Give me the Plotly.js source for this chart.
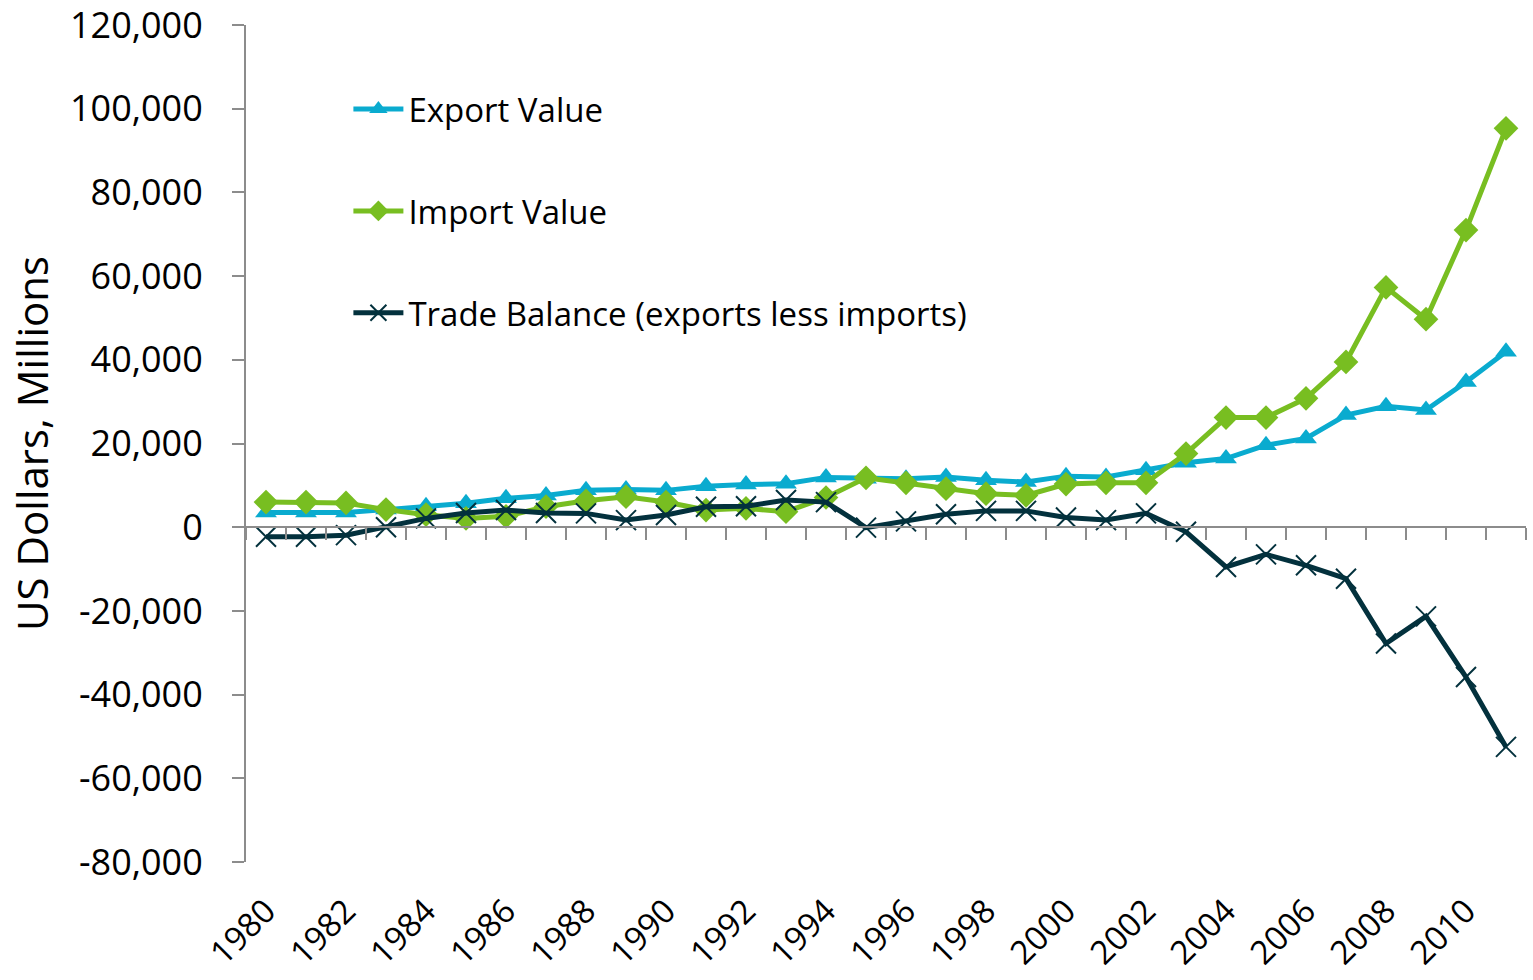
<!DOCTYPE html>
<html>
<head>
<meta charset="utf-8">
<script src="https://cdn.plot.ly/plotly-3.0.1.min.js"></script>
<style>html,body{margin:0;padding:0;background:#fff;}#chart{width:1533px;height:980px;}</style>
</head>
<body>
<div id="chart"></div>
<script>
var years = [1980,1981,1982,1983,1984,1985,1986,1987,1988,1989,1990,1991,1992,1993,1994,1995,1996,1997,1998,1999,2000,2001,2002,2003,2004,2005,2006,2007,2008,2009,2010,2011];
var exportValue = [3500,3500,3500,4200,5000,5700,6900,7600,8800,9000,8800,9800,10200,10400,11900,11600,11600,12000,11200,10800,12200,12000,13600,15400,16400,19600,21200,26800,28900,28000,34700,41900];
var importValue = [6000,6000,5800,4200,3000,2100,2600,4900,6300,7300,6000,4100,4500,3700,7100,11800,10600,9200,8000,7600,10300,10600,10600,17600,26200,26200,30800,39500,57300,49700,71000,95300];
var tradeBalance = [-2300,-2300,-1900,0,2100,3400,4100,3400,3300,1700,2900,4900,5000,6500,6000,-100,1400,3100,3900,3900,2300,1700,3300,-1100,-9500,-6500,-9100,-12300,-27800,-21300,-35800,-52500];
var seriesNames = ["Export Value","Import Value","Trade Balance (exports less imports)"];
var xTickVals = [1980,1982,1984,1986,1988,1990,1992,1994,1996,1998,2000,2002,2004,2006,2008,2010];
var yTickVals = [-80000,-60000,-40000,-20000,0,20000,40000,60000,80000,100000,120000];
var yTickText = ["-80,000","-60,000","-40,000","-20,000","0","20,000","40,000","60,000","80,000","100,000","120,000"];

var FONT = "Open Sans, sans-serif";
var traces = [
  {x: years, y: exportValue, name: seriesNames[0], type: "scatter", mode: "lines+markers", legendgroup: "a",
   line: {color: "#0AABCF", width: 5}, marker: {symbol: "triangle-up", size: 19, color: "#0AABCF"}},
  {x: years, y: importValue, name: seriesNames[1], type: "scatter", mode: "lines+markers", legendgroup: "b",
   line: {color: "#78BE21", width: 5}, marker: {symbol: "diamond", size: 19, color: "#78BE21"}},
  {x: years, y: tradeBalance, name: seriesNames[2], type: "scatter", mode: "lines+markers", legendgroup: "c",
   line: {color: "#03313D", width: 5}, marker: {symbol: "x-thin-open", size: 20, color: "#03313D", line: {width: 2, color: "#03313D"}}},
  {x: years, y: years.map(function(){return null;}), xaxis: "x2", yaxis: "y", showlegend: false, hoverinfo: "skip", mode: "lines"}
];

var layout = {
  width: 1533, height: 980,
  margin: {l: 246, r: 7, t: 25, b: 118},
  paper_bgcolor: "#ffffff", plot_bgcolor: "#ffffff",
  font: {family: FONT, color: "#000", size: 30},
  showlegend: true,
  legend: {x: 0.08, y: 0.933, xanchor: "left", yanchor: "top", bgcolor: "rgba(0,0,0,0)",
           font: {family: FONT, size: 33, color: "#000"}, tracegroupgap: 56, itemwidth: 50},
  xaxis: {range: [1979.5, 2011.5], tickmode: "array", tickvals: xTickVals, ticks: "", showline: false,
          showgrid: false, zeroline: false, tickangle: -45, ticklabelstandoff: 22, ticklabeloverflow: "allow",
          tickfont: {family: FONT, size: 33, color: "#000"}},
  xaxis2: {range: [1979.5, 2011.5], overlaying: "x", anchor: "free", position: 0.4, side: "bottom",
           tick0: 1979.5, dtick: 1, ticks: "outside", ticklen: 12, tickwidth: 2, tickcolor: "#8c8c8c",
           showticklabels: false, showline: true, linecolor: "#8c8c8c", linewidth: 2, showgrid: false, zeroline: false},
  yaxis: {range: [-80000, 120000], tickmode: "array", tickvals: yTickVals, ticktext: yTickText,
          ticks: "outside", ticklen: 12, tickwidth: 2, tickcolor: "#8c8c8c", ticklabelstandoff: 22,
          ticklabeloverflow: "allow",
          showline: true, linecolor: "#8c8c8c", linewidth: 2, showgrid: false, zeroline: false,
          tickfont: {family: FONT, size: 36, color: "#000"},
          title: {text: "US Dollars, Millions", font: {family: FONT, size: 42, color: "#000"}, standoff: 8}}
};

Plotly.newPlot("chart", traces, layout, {displayModeBar: false, staticPlot: true});
</script>
</body>
</html>
